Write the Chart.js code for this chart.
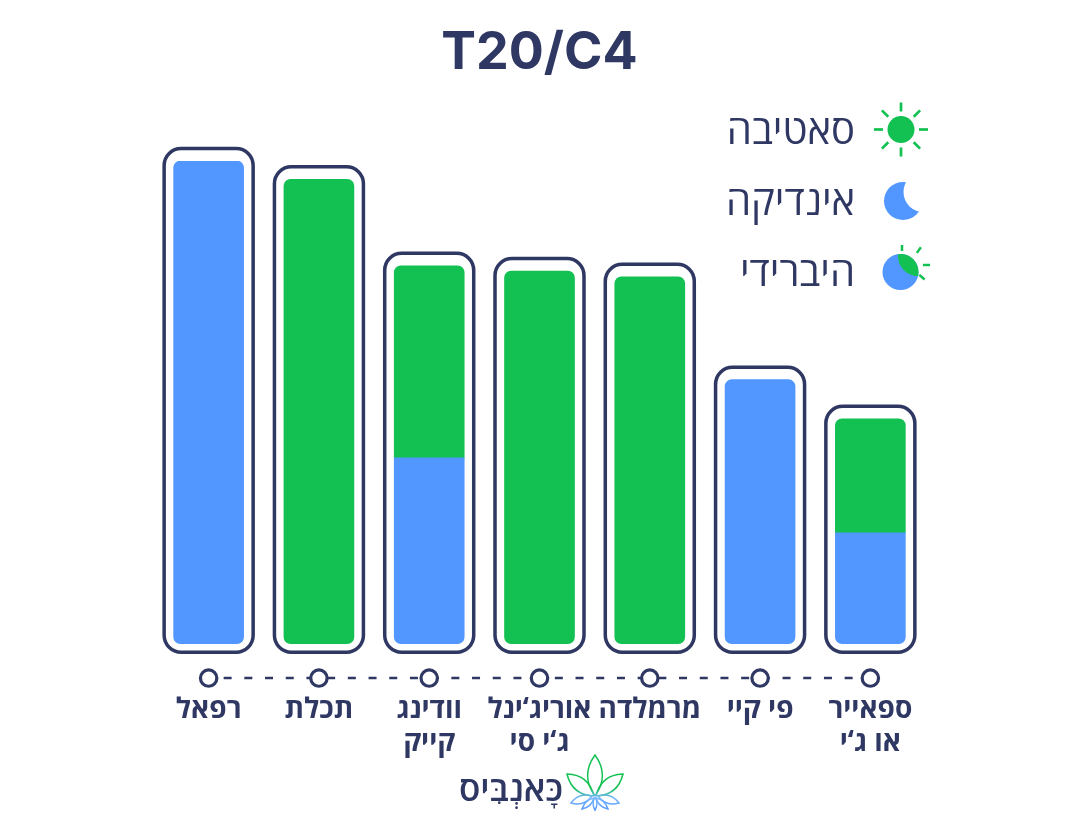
<!DOCTYPE html>
<html lang="he">
<head>
<meta charset="utf-8">
<style>html,body{margin:0;padding:0;background:#fff}#w{width:1080px;height:826px;position:relative}</style>
<script src="https://cdn.jsdelivr.net/npm/chart.js@4"></script>
</head>
<body>
<div id="w"><canvas id="c" width="1080" height="826"></canvas></div>
<script>
const categories = ['רפאל','תכלת',['וודינג','קייק'],['אוריג‘ינל','ג‘י סי'],'מרמלדה','פי קיי',['ספאייר','או ג‘י']];
const indicaValues = [100,null,38.5,null,null,54.7,23];
const sativaValues = [null,96.2,39.8,77.2,76,null,23.6];
const railValues = [-7.1,-7.1,-7.1,-7.1,-7.1,-7.1,-7.1];
const legendLabels = ['סאטיבה','אינדיקה','היברידי'];
const titleText = 'T20/C4';
const logoText = 'כָּאנְבִּיס';
const NAVY='#2f3763', BLUE='#5297ff', GREEN='#12c151';
const HEB='"Open Sans","Noto Sans","DejaVu Sans",sans-serif';

const indicaBars = indicaValues.map(v => v==null ? null : [0,v]);
const sativaBars = sativaValues.map((v,i) => v==null ? null : [indicaValues[i]||0,(indicaValues[i]||0)+v]);
const R=7;
function indicaRadius(c){const mixed=sativaValues[c.dataIndex]!=null;
  return {topLeft:mixed?0:R,topRight:mixed?0:R,bottomLeft:R,bottomRight:R};}
function sativaRadius(c){const mixed=indicaValues[c.dataIndex]!=null;
  return {topLeft:R,topRight:R,bottomLeft:mixed?0:R,bottomRight:mixed?0:R};}

const framePlugin={id:'frames',afterDatasetsDraw(chart){
  const ctx=chart.ctx,y=chart.scales.y;
  ctx.save();ctx.strokeStyle=NAVY;ctx.lineWidth=3.5;
  categories.forEach((_,i)=>{
    const total=(indicaValues[i]||0)+(sativaValues[i]||0);
    const el=chart.getDatasetMeta(indicaValues[i]!=null?0:1).data[i];
    const x=el.x,w=el.width;
    const t=y.getPixelForValue(total)-12.5,b=y.getPixelForValue(0)+8.5;
    ctx.beginPath();ctx.roundRect(x-w/2-9.5,t,w+19,b-t,17);ctx.stroke();
  });
  ctx.restore();
}};
function rays(ctx,x,y,inner,outer,w,angles){
  ctx.strokeStyle=GREEN;ctx.lineWidth=w;ctx.lineCap='butt';
  angles.forEach(a=>{const t=a*Math.PI/180;ctx.beginPath();
    ctx.moveTo(x+Math.cos(t)*inner,y+Math.sin(t)*inner);ctx.lineTo(x+Math.cos(t)*outer,y+Math.sin(t)*outer);ctx.stroke();});
}
const decorPlugin={id:'decor',afterDraw(chart){
  const ctx=chart.ctx;ctx.save();
  ctx.fillStyle=NAVY;ctx.font='400 40px '+HEB;ctx.textAlign='right';ctx.textBaseline='middle';
  legendLabels.forEach((t,i)=>ctx.fillText(t,855,[133,204,275][i]));
  // sun
  ctx.fillStyle=GREEN;ctx.beginPath();ctx.arc(901,129.5,13.5,0,7);ctx.fill();
  rays(ctx,901,129.5,18,27,2.7,[-180,-135,-90,-45,0,45,90,135]);
  // moon
  ctx.fillStyle=BLUE;ctx.beginPath();ctx.arc(903,201,19,0,7);ctx.fill();
  ctx.fillStyle='#fff';ctx.beginPath();ctx.arc(923.5,192,20,0,7);ctx.fill();
  // hybrid
  ctx.fillStyle=BLUE;ctx.beginPath();ctx.arc(900.5,272,18,0,7);ctx.fill();
  ctx.save();ctx.beginPath();ctx.arc(900.5,272,18,0,7);ctx.clip();
  ctx.fillStyle=GREEN;ctx.beginPath();ctx.arc(918,256,20,0,7);ctx.fill();ctx.restore();
  rays(ctx,908,265,15,22,2.5,[-54,0,41]);
  rays(ctx,902,265,14,20,2.5,[-90]);
  // logo
  ctx.fillStyle=NAVY;ctx.font='600 35px '+HEB;ctx.textAlign='right';ctx.fillText(logoText,563,791);
  const g=ctx.createLinearGradient(0,755,0,810);g.addColorStop(0,GREEN);g.addColorStop(.6,GREEN);g.addColorStop(.78,'#7ab8ff');g.addColorStop(1,BLUE);
  ctx.strokeStyle=g;ctx.lineWidth=1.5;
  const leaf=(x0,y0,x1,y1,b)=>{const mx=(x0+x1)/2,my=(y0+y1)/2,dx=y1-y0,dy=x0-x1;
    ctx.beginPath();ctx.moveTo(x0,y0);ctx.quadraticCurveTo(mx+dx*b,my+dy*b,x1,y1);ctx.quadraticCurveTo(mx-dx*b,my-dy*b,x0,y0);ctx.stroke();};
  leaf(595,796,595,755,.36);
  leaf(594,796,567,774,.38);leaf(596,796,623,774,.38);
  leaf(592,796,571,803,.35);leaf(598,796,619,803,.35);
  leaf(594,798,582,809,.3);leaf(596,798,608,809,.3);
  leaf(595,797,595,810,.3);
  ctx.restore();
}};
new Chart(document.getElementById('c'),{
  type:'bar',
  data:{labels:categories,datasets:[
    {label:'אינדיקה',data:indicaBars,backgroundColor:BLUE,stack:'s',order:2,borderRadius:indicaRadius},
    {label:'סאטיבה',data:sativaBars,backgroundColor:GREEN,stack:'s',order:2,borderRadius:sativaRadius},
    {type:'line',label:'rail',data:railValues,borderColor:NAVY,borderWidth:2.5,borderDash:[8,12.7],borderDashOffset:5.7,
     pointRadius:8.2,pointHoverRadius:8.2,pointBackgroundColor:'#fff',pointBorderColor:NAVY,pointBorderWidth:3.2,tension:0,clip:false,order:1}
  ]},
  options:{
    responsive:false,animation:false,devicePixelRatio:1,
    layout:{padding:{left:153.5,right:154.5,top:0,bottom:63.2}},
    datasets:{bar:{barThickness:70,borderSkipped:false}},
    scales:{
      x:{stacked:true,grid:{display:false},border:{display:false},
         ticks:{autoSkip:false,maxRotation:0,minRotation:0,color:NAVY,padding:4,font:{family:HEB,size:28,weight:'700',lineHeight:1.15}}},
      y:{stacked:false,display:false,min:-8,max:100}
    },
    plugins:{
      legend:{display:false},tooltip:{enabled:false},
      title:{display:true,text:titleText,color:NAVY,font:{family:'Inter,Roboto,sans-serif',size:52,weight:'700',lineHeight:1.2},padding:{top:22,bottom:76.6}}
    }
  },
  plugins:[framePlugin,decorPlugin]
});
</script>
</body>
</html>
